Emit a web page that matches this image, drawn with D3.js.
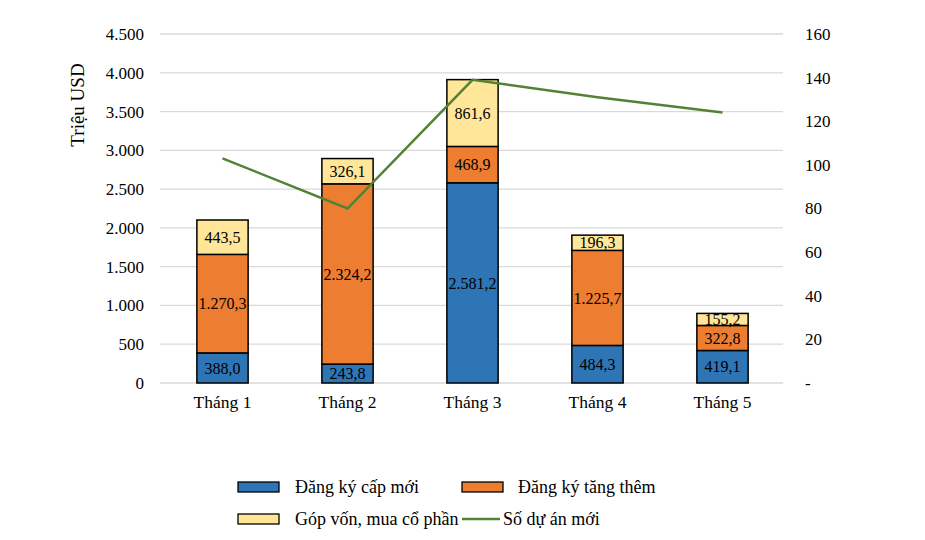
<!DOCTYPE html>
<html><head><meta charset="utf-8">
<script src="https://cdn.jsdelivr.net/npm/d3@7"></script>
<style>body{margin:0;background:#fff}svg{display:block}svg text{font-family:"Liberation Serif","Times New Roman","DejaVu Serif",serif !important;fill:#000}</style>
</head><body>
<svg id="c" width="925" height="540"></svg>
<script>
const months = ["Tháng 1","Tháng 2","Tháng 3","Tháng 4","Tháng 5"];
const capMoi = [388.0, 243.8, 2581.2, 484.3, 419.1];
const tangThem = [1270.3, 2324.2, 468.9, 1225.7, 322.8];
const gopVon = [443.5, 326.1, 861.6, 196.3, 155.2];
const soDuAn = [103, 80, 139, 131, 124];
const leftTicks = [0,500,1000,1500,2000,2500,3000,3500,4000,4500];
const rightTicks = [0,20,40,60,80,100,120,140,160];
const seriesNames = ["Đăng ký cấp mới","Đăng ký tăng thêm","Góp vốn, mua cổ phần","Số dự án mới"];
const colors = ["#2E75B6","#ED7D31","#FFE699","#548235"];

(function(){
const FF = '"Liberation Serif","Times New Roman",serif';
const loc = d3.formatLocale({decimal:",", thousands:".", grouping:[3], currency:["",""]});
const fmtL = loc.format(",.0f");
const fmtV = loc.format(",.1f");

const svg = d3.select("#c").attr("font-family",FF);
const pL=160, pR=785, pT=34, pB=383;
const x = d3.scaleBand().domain(months).range([pL,pR]).paddingInner(0.59).paddingOuter(0.295);
const y = d3.scaleLinear().domain([0,4500]).range([pB,pT]);
const y2 = d3.scaleLinear().domain([0,160]).range([pB,pT]);

svg.append("g").selectAll("line").data(leftTicks).join("line")
  .attr("x1",pL).attr("x2",783).attr("y1",d=>y(d)).attr("y2",d=>y(d))
  .attr("stroke","#d9d9d9").attr("stroke-width",1.3);

const ga = svg.append("g").attr("transform",`translate(${pL},0)`)
  .call(d3.axisLeft(y).tickValues(leftTicks).tickFormat(fmtL).tickSize(0).tickPadding(16));
ga.attr("font-family",FF).attr("font-size",17);
ga.select(".domain").remove();

const gr = svg.append("g").attr("transform",`translate(783,0)`)
  .call(d3.axisRight(y2).tickValues(rightTicks).tickFormat(d=>d===0?"-":d).tickSize(0).tickPadding(22));
gr.attr("font-family",FF).attr("font-size",17);
gr.select(".domain").remove();

const gx = svg.append("g").attr("transform",`translate(0,${pB})`)
  .call(d3.axisBottom(x).tickSize(0).tickPadding(13));
gx.attr("font-family",FF).attr("font-size",17.5);
gx.select(".domain").remove();

svg.append("text").attr("transform","translate(84,105) rotate(-90)")
  .attr("text-anchor","middle").attr("font-size",19).text("Triệu USD");

const rows = months.map((m,i)=>({m, a:capMoi[i], b:tangThem[i], c:gopVon[i]}));
const stack = d3.stack().keys(["a","b","c"])(rows);
stack.forEach((layer,k)=>{
  const g = svg.append("g");
  g.selectAll("rect").data(layer).join("rect")
    .attr("x",d=>x(d.data.m)).attr("width",x.bandwidth())
    .attr("y",d=>y(d[1])).attr("height",d=>y(d[0])-y(d[1]))
    .attr("fill",colors[k]).attr("stroke","#000").attr("stroke-width",1.5);
  g.selectAll("text").data(layer).join("text")
    .attr("x",d=>x(d.data.m)+x.bandwidth()/2)
    .attr("y",d=>(y(d[0])+y(d[1]))/2)
    .attr("dy","0.35em").attr("text-anchor","middle")
    .attr("font-size",16)
    .text(d=>fmtV(d[1]-d[0]));
});

const line = d3.line().x((d,i)=>x(months[i])+x.bandwidth()/2).y(d=>y2(d));
svg.append("path").datum(soDuAn).attr("d",line)
  .attr("fill","none").attr("stroke",colors[3]).attr("stroke-width",2.5);

const leg = [
  {i:0, x:238, y:487, tx:295},
  {i:1, x:462, y:487, tx:518},
  {i:2, x:238, y:519, tx:295},
];
leg.forEach(l=>{
  svg.append("rect").attr("x",l.x).attr("y",l.y-5).attr("width",41).attr("height",10)
    .attr("fill",colors[l.i]).attr("stroke","#000").attr("stroke-width",1.3);
  svg.append("text").attr("x",l.tx).attr("y",l.y).attr("dy","0.35em")
    .attr("font-size",18).text(seriesNames[l.i]);
});
svg.append("line").attr("x1",462).attr("x2",500).attr("y1",519).attr("y2",519)
  .attr("stroke",colors[3]).attr("stroke-width",2.5);
svg.append("text").attr("x",503).attr("y",519).attr("dy","0.35em")
  .attr("font-size",18).text(seriesNames[3]);
})();
</script>
</body></html>
